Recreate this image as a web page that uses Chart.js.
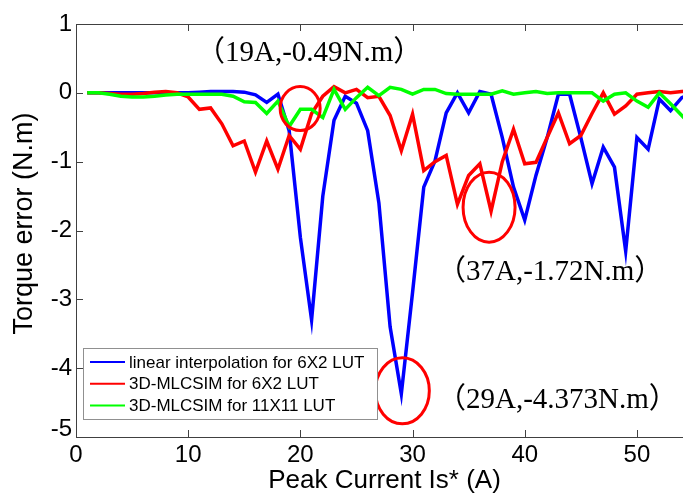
<!DOCTYPE html>
<html><head><meta charset="utf-8">
<script src="https://cdn.jsdelivr.net/npm/chart.js@4/dist/chart.umd.min.js"></script>
<style>
html,body{margin:0;padding:0;overflow:hidden;background:#fff;width:683px;height:498px}
#wrap{position:absolute;left:0;top:0;width:700px;height:498px}
</style>
</head><body><div id="wrap"><canvas id="c" width="700" height="498"></canvas></div>
<script>
// ---- data ----
const currents = [1,2,3,4,5,6,7,8,9,10,11,12,13,14,15,16,17,18,19,20,21,22,23,24,25,26,27,28,29,30,31,32,33,34,35,36,37,38,39,40,41,42,43,44,45,46,47,48,49,50,51,52,53,54,55];
const linearInterp6x2 = [0,0,0,0,0,0,0,0,0,0,0.01,0.02,0.02,0.02,0.01,-0.03,-0.14,-0.02,-0.55,-2.1,-3.3,-1.5,-0.4,-0.05,-0.15,-0.55,-1.6,-3.4,-4.373,-2.9,-1.37,-0.99,-0.29,0.0,-0.29,0.02,-0.02,-0.65,-1.37,-1.85,-1.2,-0.65,-0.02,-0.02,-0.65,-1.32,-0.79,-1.08,-2.3,-0.65,-0.82,-0.09,-0.26,-0.07,0.0];
const mlcsim6x2 = [0,0,-0.01,-0.02,-0.02,-0.01,0.01,0.02,0.0,-0.06,-0.24,-0.22,-0.45,-0.77,-0.70,-1.15,-0.70,-1.11,-0.62,-0.82,-0.3,-0.05,0.09,0.0,0.05,-0.07,-0.05,-0.33,-0.84,-0.31,-1.13,-1.0,-0.91,-1.62,-1.2,-1.03,-1.72,-1.0,-0.53,-1.03,-1.01,-0.65,-0.29,-0.74,-0.62,-0.3,0.0,-0.31,-0.19,-0.02,0.0,0.02,0.0,0.02,0.03];
const mlcsim11x11 = [0,0,-0.02,-0.05,-0.06,-0.06,-0.05,-0.03,-0.02,-0.02,-0.02,-0.02,-0.02,-0.05,-0.13,-0.14,-0.3,-0.12,-0.49,-0.24,-0.24,-0.36,0.05,-0.24,-0.07,0.08,-0.04,0.08,0.05,-0.02,0.05,0.05,-0.01,-0.02,-0.02,-0.02,-0.02,0.03,-0.02,0.0,0.02,-0.01,0.0,0.0,0.0,0.0,-0.12,-0.02,0.0,-0.12,-0.21,0.0,-0.16,-0.33,-0.5];
const seriesNames = ['linear interpolation for 6X2 LUT','3D-MLCSIM for 6X2 LUT','3D-MLCSIM for 11X11 LUT'];
const xTicks = [0,10,20,30,40,50];
const yTicks = [1,0,-1,-2,-3,-4,-5];
const notePoints = [[19,-0.49],[37,-1.72],[29,-4.373]];
const noteTexts = ['（19A,-0.49N.m）','（37A,-1.72N.m）','（29A,-4.373N.m）'];
const xTitle = 'Peak Current Is* (A)';
const yTitle = 'Torque error (N.m)';

// ---- styles ----
const SANS = "'Liberation Sans', Arial, sans-serif";
const SERIF = "'Liberation Serif', 'Noto Sans CJK SC', serif";
const AXIS = '#404040';

const pts = arr => currents.map((x,i)=>({x:x, y:arr[i]}));
const yMin = Math.min(...yTicks);

const decor = {
  id:'decor',
  afterDatasetsDraw(chart){
    const ctx = chart.ctx, a = chart.chartArea, xs = chart.scales.x, ys = chart.scales.y;
    ctx.save();
    ctx.strokeStyle = AXIS; ctx.lineWidth = 1;
    ctx.strokeRect(Math.round(a.left)+0.5, Math.round(a.top)+0.5, Math.round(a.right-a.left), Math.round(a.bottom-a.top));
    ctx.beginPath();
    xTicks.forEach(v=>{ const px = Math.round(xs.getPixelForValue(v))+0.5;
      ctx.moveTo(px, a.bottom); ctx.lineTo(px, a.bottom-7);
      ctx.moveTo(px, a.top); ctx.lineTo(px, a.top+7); });
    yTicks.forEach(v=>{ const py = Math.round(ys.getPixelForValue(v))+0.5;
      ctx.moveTo(a.left, py); ctx.lineTo(a.left+7, py);
      ctx.moveTo(a.right, py); ctx.lineTo(a.right-7, py); });
    ctx.stroke();
    // lowest y tick label, lifted as in the original
    ctx.fillStyle = '#000'; ctx.font = '24px ' + SANS; ctx.textAlign = 'right'; ctx.textBaseline = 'middle';
    ctx.fillText(String(yMin), a.left - 4, ys.getPixelForValue(yMin) - 8);
    // y axis title
    ctx.save();
    ctx.translate(25, (a.top + a.bottom)/2 - 7);
    ctx.rotate(-Math.PI/2);
    ctx.fillStyle = '#000'; ctx.font = '27px ' + SANS; ctx.textAlign = 'center'; ctx.textBaseline = 'middle';
    ctx.fillText(yTitle, 0, 0);
    ctx.restore();
    // annotation ellipses
    const offs = [[11,-18],[-2,-4],[1,-3]];
    const radii = [[20,22],[26,35],[27,33]];
    ctx.strokeStyle = '#ff0000'; ctx.lineWidth = 3;
    notePoints.forEach((p,i)=>{
      const cx = xs.getPixelForValue(p[0]) + offs[i][0];
      const cy = ys.getPixelForValue(p[1]) + offs[i][1];
      ctx.beginPath(); ctx.ellipse(cx, cy, radii[i][0], radii[i][1], 0, 0, Math.PI*2); ctx.stroke();
    });
    // annotation texts
    const tpos = [[196,61],[437,280],[437,408]];
    ctx.fillStyle = '#000'; ctx.font = '29px ' + SERIF; ctx.textBaseline = 'alphabetic'; ctx.textAlign = 'left';
    noteTexts.forEach((t,i)=> ctx.fillText(t, tpos[i][0], tpos[i][1]));
    // legend
    const lx = 83.5, ly = 348.5, lw = 294, lh = 71;
    ctx.fillStyle = '#fff'; ctx.fillRect(lx, ly, lw, lh);
    ctx.strokeStyle = '#909090'; ctx.lineWidth = 1; ctx.strokeRect(lx, ly, lw, lh);
    ctx.font = '17px ' + SANS; ctx.textBaseline = 'middle';
    chart.data.datasets.forEach((d,i)=>{
      const yy = 362 + i*21.7;
      ctx.strokeStyle = d.borderColor; ctx.lineWidth = 2;
      ctx.beginPath(); ctx.moveTo(90, yy); ctx.lineTo(125, yy); ctx.stroke();
      ctx.fillStyle = '#000'; ctx.fillText(d.label, 129, yy+1);
    });
    ctx.restore();
  }
};

new Chart(document.getElementById('c'), {
  type:'line',
  data:{ datasets:[
    {label:seriesNames[0], data:pts(linearInterp6x2), borderColor:'#0000ff', borderWidth:3.5, pointRadius:0, tension:0, order:3},
    {label:seriesNames[1], data:pts(mlcsim6x2), borderColor:'#ff0000', borderWidth:3.5, pointRadius:0, tension:0, order:2},
    {label:seriesNames[2], data:pts(mlcsim11x11), borderColor:'#00ff00', borderWidth:3.5, pointRadius:0, tension:0, order:1}
  ]},
  options:{
    responsive:false, animation:false, devicePixelRatio:1,
    layout:{padding:{top:24,right:7,left:0,bottom:0}},
    plugins:{legend:{display:false}, tooltip:{enabled:false}},
    scales:{
      x:{type:'linear', min:0, max:55,
        afterBuildTicks:s=>{ s.ticks = xTicks.map(v=>({value:v})); },
        afterFit:s=>{ s.height = 61; },
        grid:{display:false, drawTicks:false}, border:{display:false},
        ticks:{color:'#000', font:{family:SANS, size:24}, padding:4, maxRotation:0, autoSkip:false},
        title:{display:true, text:xTitle, color:'#000', font:{family:SANS, size:26}, padding:{top:0,bottom:2}}
      },
      y:{type:'linear', min:-5, max:1,
        afterBuildTicks:s=>{ s.ticks = yTicks.map(v=>({value:v})); },
        afterFit:s=>{ s.width = 76; },
        grid:{display:false, drawTicks:false}, border:{display:false},
        ticks:{color:'#000', font:{family:SANS, size:24}, padding:4, autoSkip:false,
               callback:v=> v === yMin ? '' : String(v)},
        title:{display:false}
      }
    }
  },
  plugins:[decor]
});
</script></body></html>
